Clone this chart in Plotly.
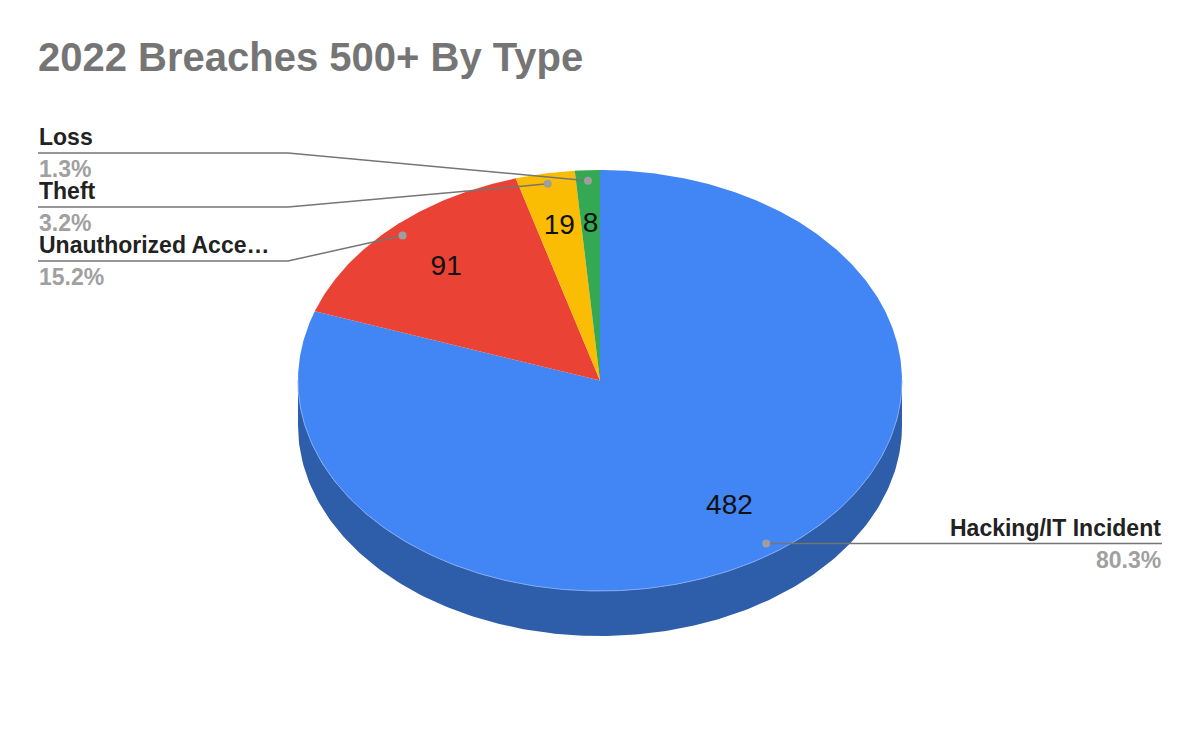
import numpy as np
import plotly.graph_objects as go

# data
categories = ["Hacking/IT Incident", "Unauthorized Acce…", "Theft", "Loss"]
values = [482, 91, 19, 8]
colors = ["#4285F4", "#EA4335", "#FBBC04", "#34A853"]
side_color = "#2E5DAA"

# layout of the fake 3d pie (screen pixels, y grows downward)
OFF = 8  # page body margin
CX, CY = 600, 380.5
RX, RY = 302, 210.5
DEPTH = 45
LEFT_X, BEND_X = 38, 288
left_line_y = {"Loss": 153, "Theft": 207, "Unauthorized Acce…": 261}
RIGHT_X = 1162
FONT = "Liberation Sans, Arial, sans-serif"


def ellipse_pt(theta, r=1.0, dy=0.0):
    t = np.radians(theta)
    return CX + r * RX * np.sin(t), CY - r * RY * np.cos(t) + dy


total = sum(values)
fracs = [v / total for v in values]
starts = np.concatenate([[0], np.cumsum(fracs)[:-1]]) * 360
ends = np.cumsum(fracs) * 360

fig = go.Figure()

# front side (only the lower half of the ellipse shows)
th = np.linspace(90, 270, 200)
tx, ty = ellipse_pt(th)
bx, by = ellipse_pt(th[::-1], dy=DEPTH)
fig.add_trace(go.Scatter(
    x=np.concatenate([tx, bx]), y=np.concatenate([ty, by]),
    fill="toself", fillcolor=side_color, mode="lines",
    line=dict(width=0), hoverinfo="skip", showlegend=False,
))

# top face slices
for cat, a0, a1, col in zip(categories, starts, ends, colors):
    th = np.linspace(a0, a1, max(int(a1 - a0) * 2, 8))
    ex, ey = ellipse_pt(th)
    fig.add_trace(go.Scatter(
        x=np.concatenate([[CX], ex, [CX]]), y=np.concatenate([[CY], ey, [CY]]),
        fill="toself", fillcolor=col, mode="lines", line=dict(width=0, color=col),
        name=cat, hoverinfo="name", showlegend=False,
    ))

# thin highlight on the front rim
th = np.linspace(90, 270, 200)
hx, hy = ellipse_pt(th)
fig.add_trace(go.Scatter(x=hx, y=hy, mode="lines", line=dict(color="#7FA9F5", width=1),
                         hoverinfo="skip", showlegend=False))

annotations = []
mids = (starts + ends) / 2
for cat, v, f, mid in zip(categories, values, fracs, mids):
    # value label inside the slice
    vx, vy = ellipse_pt(mid, r=0.74)
    fig.add_trace(go.Scatter(x=[vx], y=[vy], mode="text", text=[str(v)],
                             textfont=dict(family=FONT, size=28, color="#111111"),
                             hoverinfo="skip", showlegend=False))
    # leader line + dot
    dx, dy = ellipse_pt(mid, r=0.95)
    if cat in left_line_y:
        ly = left_line_y[cat]
        lx = [LEFT_X, BEND_X, dx]
        lyy = [ly, ly, dy]
        x_text, anchor = LEFT_X, "left"
    else:
        ly = dy
        lx = [dx, RIGHT_X]
        lyy = [dy, dy]
        x_text, anchor = RIGHT_X, "right"
    fig.add_trace(go.Scatter(x=lx, y=lyy, mode="lines", line=dict(color="#757575", width=1.5),
                             hoverinfo="skip", showlegend=False))
    fig.add_trace(go.Scatter(x=[dx], y=[dy], mode="markers", marker=dict(color="#9E9E9E", size=8),
                             hoverinfo="skip", showlegend=False))
    annotations.append(dict(x=x_text, y=ly - 2, xref="x", yref="y", xanchor=anchor, yanchor="bottom",
                            text=f"<b>{cat}</b>", showarrow=False, borderpad=0,
                            font=dict(family=FONT, size=23, color="#222222")))
    annotations.append(dict(x=x_text, y=ly + 2, xref="x", yref="y", xanchor=anchor, yanchor="top",
                            text=f"<b>{f * 100:.1f}%</b>", showarrow=False, borderpad=0,
                            font=dict(family=FONT, size=23, color="#A0A0A0")))

fig.update_layout(
    width=1200, height=742,
    margin=dict(l=0, r=0, t=0, b=0),
    paper_bgcolor="white", plot_bgcolor="white",
    title=dict(text="<b>2022 Breaches 500+ By Type</b>", x=(38 - OFF) / 1200, xanchor="left",
               y=1 - (57 - OFF) / 742, yanchor="middle", yref="container",
               font=dict(family=FONT, size=40, color="#757575")),
    xaxis=dict(range=[OFF, 1200 + OFF], visible=False, fixedrange=True),
    yaxis=dict(range=[742 + OFF, OFF], visible=False, fixedrange=True),
    annotations=annotations,
)

fig.write_html("out.html")
